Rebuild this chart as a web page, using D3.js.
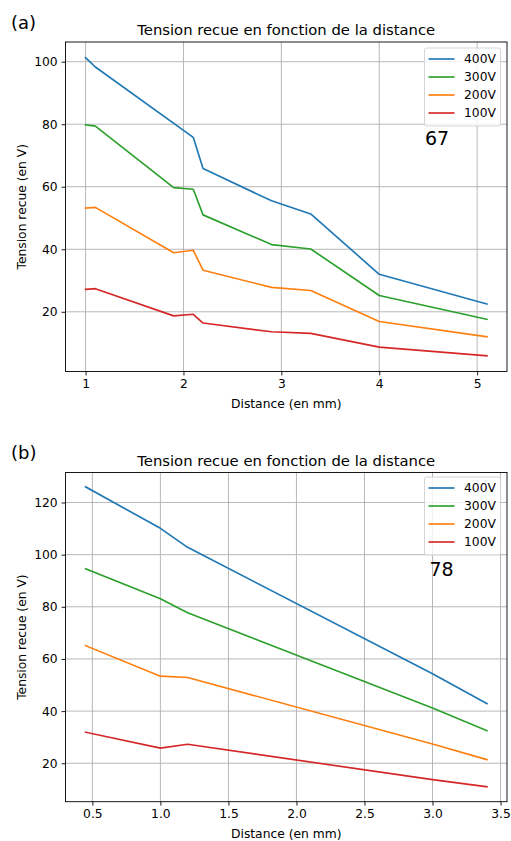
<!DOCTYPE html>
<html><head><meta charset="utf-8">
<script src="https://cdn.jsdelivr.net/npm/d3@7/dist/d3.min.js"></script>
<style>body{margin:0;background:#fff}svg{display:block;font-family:"DejaVu Sans",sans-serif}</style>
</head><body>
<script>
// ---- Data ----
const seriesNames = ["400V", "300V", "200V", "100V"];
const colors = ["#1f77b4", "#2ca02c", "#ff7f0e", "#d62728"];

const distA = [1, 1.1, 2.1, 2.2, 2.9, 3.3, 4, 5.1];
const distA2 = [1, 1.1, 1.9, 2.1, 2.2, 2.9, 3.3, 4, 5.1];
const a400 = [101.3, 98.3, 75.8, 65.8, 55.5, 51.3, 32.0, 22.5];
const a300 = [79.8, 79.4, 59.7, 59.2, 51.0, 41.5, 40.1, 25.2, 17.6];
const a200 = [53.2, 53.4, 38.9, 39.7, 33.3, 27.8, 26.8, 16.9, 12.0];
const a100 = [27.2, 27.4, 18.7, 19.2, 16.4, 13.6, 13.1, 8.7, 5.9];
const xTicksA = [1, 2, 3, 4, 5];
const yTicksA = [20, 40, 60, 80, 100];

const distB = [0.45, 1.0, 1.2, 3.0, 3.4];
const b400 = [126.0, 110.1, 102.8, 54.3, 42.9];
const b300 = [94.6, 83.1, 77.7, 41.2, 32.5];
const b200 = [65.1, 53.4, 52.9, 27.4, 21.4];
const b100 = [31.9, 25.8, 27.3, 13.7, 11.0];
const xTicksB = [0.5, 1.0, 1.5, 2.0, 2.5, 3.0, 3.5];
const yTicksB = [20, 40, 60, 80, 100, 120];

const title = "Tension recue en fonction de la distance";
const xLabel = "Distance (en mm)";
const yLabel = "Tension recue (en V)";

// ---- Drawing ----
const W = 511, H = 841;
const FS = 12.3, FT = 14.8;
const svg = d3.select("body").append("svg").attr("width", W).attr("height", H);

function panel(cfg) {
  const {left, right, top, bottom, xDomain, yDomain, xTicks, yTicks, xFmt, series, tag, tagY, num, numX, numY, legTop} = cfg;
  const x = d3.scaleLinear().domain(xDomain).range([left, right]);
  const y = d3.scaleLinear().domain(yDomain).range([bottom, top]);
  const g = svg.append("g");
  // grid
  g.append("g").selectAll("line").data(xTicks).join("line")
    .attr("x1", d => x(d)).attr("x2", d => x(d)).attr("y1", top).attr("y2", bottom)
    .attr("stroke", "#b0b0b0").attr("stroke-width", 0.9);
  g.append("g").selectAll("line").data(yTicks).join("line")
    .attr("y1", d => y(d)).attr("y2", d => y(d)).attr("x1", left).attr("x2", right)
    .attr("stroke", "#b0b0b0").attr("stroke-width", 0.9);
  // lines
  const line = d3.line().x(d => x(d[0])).y(d => y(d[1]));
  series.forEach((s, i) => {
    const pts = s.xs.map((v, j) => [v, s.ys[j]]);
    g.append("path").attr("d", line(pts)).attr("fill", "none")
      .attr("stroke", colors[i]).attr("stroke-width", 1.65).attr("stroke-linejoin", "round").attr("stroke-linecap", "square");
  });
  // axes
  const xa = g.append("g").attr("transform", `translate(0,${bottom})`)
    .call(d3.axisBottom(x).tickValues(xTicks).tickFormat(xFmt).tickSize(3.9).tickPadding(4));
  const ya = g.append("g").attr("transform", `translate(${left},0)`)
    .call(d3.axisLeft(y).tickValues(yTicks).tickFormat(d3.format("d")).tickSize(3.9).tickPadding(4));
  [xa, ya].forEach(a => {
    a.select(".domain").remove();
    a.selectAll("line").attr("stroke", "#000").attr("stroke-width", 0.9);
    a.selectAll("text").attr("font-size", FS).attr("fill", "#000").attr("font-family", "DejaVu Sans");
  });
  g.append("rect").attr("x", left).attr("y", top).attr("width", right - left).attr("height", bottom - top)
    .attr("fill", "none").attr("stroke", "#000").attr("stroke-width", 0.9);
  // title
  g.append("text").attr("x", (left + right) / 2).attr("y", top - 7).attr("text-anchor", "middle")
    .attr("font-size", FT).text(title);
  g.append("text").attr("x", (left + right) / 2).attr("y", bottom + 36).attr("text-anchor", "middle")
    .attr("font-size", FS).text(xLabel);
  g.append("text").attr("transform", `translate(26,${(top + bottom) / 2}) rotate(-90)`).attr("text-anchor", "middle")
    .attr("font-size", FS).text(yLabel);
  g.append("text").attr("x", 11).attr("y", tagY).attr("font-size", 18).text(tag);
  g.append("text").attr("x", numX).attr("y", numY).attr("text-anchor", "middle").attr("font-size", 19).text(num);
  // legend
  const lg = g.append("g");
  lg.append("rect").attr("x", 424.5).attr("y", legTop).attr("width", 76).attr("height", 78).attr("rx", 2)
    .attr("fill", "#fff").attr("fill-opacity", 0.8).attr("stroke", "#d0d0d0").attr("stroke-width", 0.9);
  seriesNames.forEach((n, i) => {
    const yy = legTop + 11 + i * 18;
    lg.append("line").attr("x1", 428.5).attr("x2", 454.5).attr("y1", yy).attr("y2", yy)
      .attr("stroke", colors[i]).attr("stroke-width", 1.65);
    lg.append("text").attr("x", 464).attr("y", yy + 4.3).attr("font-size", FS).text(n);
  });
}

panel({
  left: 65.5, right: 507, top: 42, bottom: 371.5,
  xDomain: [0.795, 5.305], yDomain: [0.9, 106.3],
  xTicks: xTicksA, yTicks: yTicksA, xFmt: d3.format("d"),
  series: [{xs: distA, ys: a400}, {xs: distA2, ys: a300}, {xs: distA2, ys: a200}, {xs: distA2, ys: a100}],
  tag: "(a)", tagY: 29, num: "67", numX: 437, numY: 145, legTop: 48
});
panel({
  left: 65.5, right: 507, top: 472.5, bottom: 801.7,
  xDomain: [0.3025, 3.5475], yDomain: [5.26, 131.5],
  xTicks: xTicksB, yTicks: yTicksB, xFmt: d3.format(".1f"),
  series: [{xs: distB, ys: b400}, {xs: distB, ys: b300}, {xs: distB, ys: b200}, {xs: distB, ys: b100}],
  tag: "(b)", tagY: 459, num: "78", numX: 441.5, numY: 576, legTop: 477
});
</script>
</body></html>
